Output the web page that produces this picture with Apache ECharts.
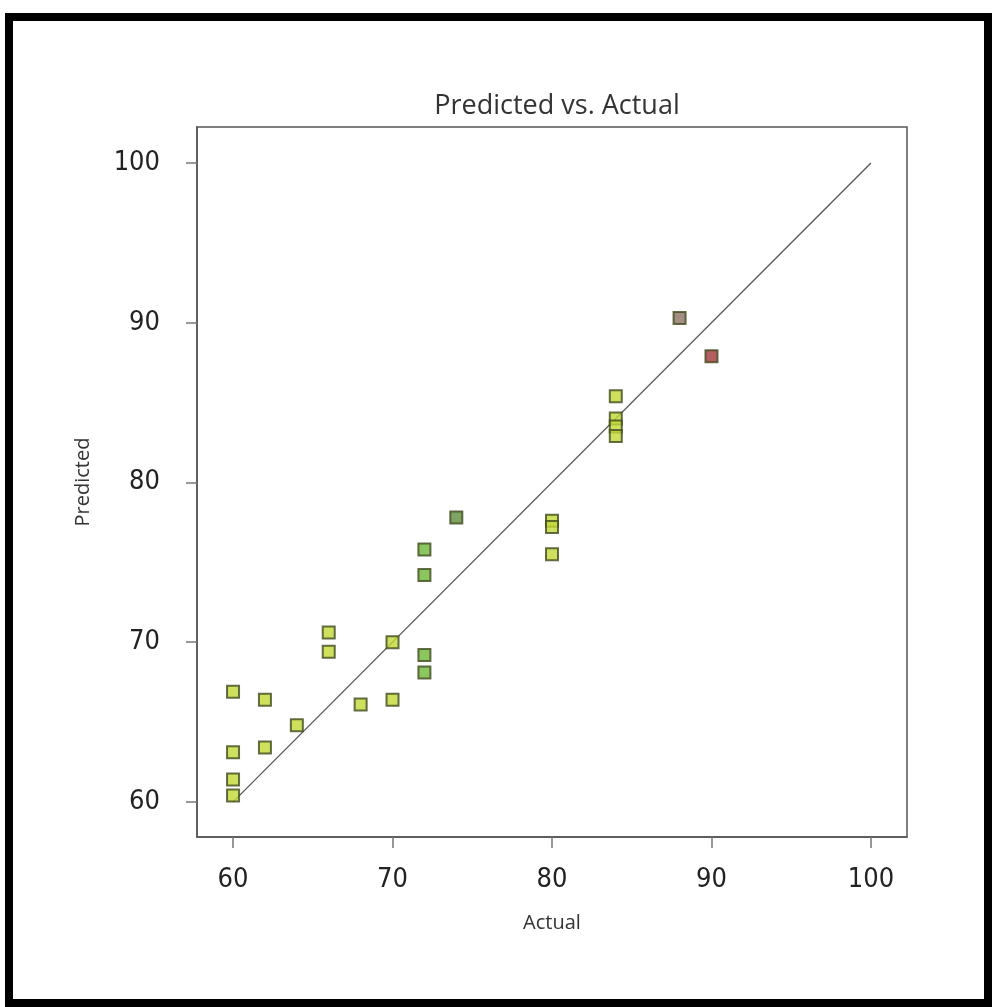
<!DOCTYPE html>
<html>
<head>
<meta charset="utf-8">
<script src="https://cdn.jsdelivr.net/npm/echarts@6/dist/echarts.min.js"></script>
<style>
  html, body { margin: 0; padding: 0; background: #fff; }
  #chart { position: absolute; left: 0; top: 0; width: 992px; height: 1007px; }
  #frame { position: absolute; left: 5px; top: 13px; width: 987px; height: 994px;
           box-sizing: border-box; border: 8px solid #000; pointer-events: none; }
</style>
</head>
<body>
<div id="chart"></div>
<div id="frame"></div>
<script>
// Tick values
const xTicks = [60, 70, 80, 90, 100];
const yTicks = [60, 70, 80, 90, 100];

// Yellow-green points
const yellowActual    = [60, 60, 60, 60, 62, 62, 64, 66, 66, 68, 70, 70, 80, 80, 80, 84, 84, 84, 84];
const yellowPredicted = [66.9, 63.1, 61.4, 60.4, 66.4, 63.4, 64.8, 70.6, 69.4, 66.1, 66.4, 70.0, 77.6, 77.2, 75.5, 85.4, 84.0, 83.5, 82.9];
// Green points
const greenActual    = [72, 72, 72, 72];
const greenPredicted = [75.8, 74.2, 69.2, 68.1];
// Dark green point
const darkGreenActual    = [74];
const darkGreenPredicted = [77.8];
// Brown point
const brownActual    = [88];
const brownPredicted = [90.3];
// Red point
const redActual    = [90];
const redPredicted = [87.9];

// Reference line (y = x) endpoints
const lineActual    = [60, 100];
const linePredicted = [60, 100];

const zip = (a, b) => a.map((v, i) => [v, b[i]]);

function pts(name, xs, ys, fill) {
  return {
    name: name, type: 'scatter', symbol: 'rect', symbolSize: 12,
    data: zip(xs, ys), z: 3,
    itemStyle: { color: fill, borderColor: '#3f4a1c', borderWidth: 2 }
  };
}

const tickFont = '"DejaVu Sans Condensed", "DejaVu Sans"';
const chart = echarts.init(document.getElementById('chart'), null, { renderer: 'canvas' });
const axisCommon = {
  axisLine: { show: true, lineStyle: { color: '#555', width: 1.5 } },
  axisTick: { show: true, inside: false, length: 11, lineStyle: { color: '#777', width: 1.5 } },
  splitLine: { show: false },
  nameTextStyle: { fontFamily: 'Open Sans', fontSize: 20, color: '#333' }
};
chart.setOption({
  backgroundColor: '#fff',
  animation: false,
  title: {
    text: 'Predicted vs. Actual', left: 552, top: 88, textAlign: 'center',
    textStyle: { fontFamily: 'Open Sans', fontSize: 27, fontWeight: 'normal', color: '#333' }
  },
  grid: { left: 197, top: 127, right: 85, bottom: 170, show: true, borderColor: '#555', borderWidth: 1.5 },
  xAxis: Object.assign({}, axisCommon, {
    type: 'value', min: 57.74, max: 102.26,
    name: 'Actual', nameLocation: 'middle', nameGap: 76,
    axisTick: Object.assign({}, axisCommon.axisTick, { customValues: xTicks }),
    axisLabel: { customValues: xTicks, margin: 29, fontFamily: tickFont, fontSize: 27, color: '#222' }
  }),
  yAxis: Object.assign({}, axisCommon, {
    type: 'value', min: 57.8, max: 102.25,
    name: 'Predicted', nameLocation: 'middle', nameGap: 104, nameRotate: 90,
    axisTick: Object.assign({}, axisCommon.axisTick, { customValues: yTicks }),
    axisLabel: { customValues: yTicks, margin: 37, fontFamily: tickFont, fontSize: 27, color: '#222' }
  }),
  series: [
    {
      type: 'line', data: zip(lineActual, linePredicted), symbol: 'none', z: 2,
      lineStyle: { color: '#555', width: 1.3 }
    },
    pts('yellow', yellowActual, yellowPredicted, '#c2d836'),
    pts('green', greenActual, greenPredicted, '#6fb83a'),
    pts('darkgreen', darkGreenActual, darkGreenPredicted, '#5f8f3e'),
    pts('brown', brownActual, brownPredicted, '#8c7262'),
    pts('red', redActual, redPredicted, '#a3363a')
  ]
});
</script>
</body>
</html>
